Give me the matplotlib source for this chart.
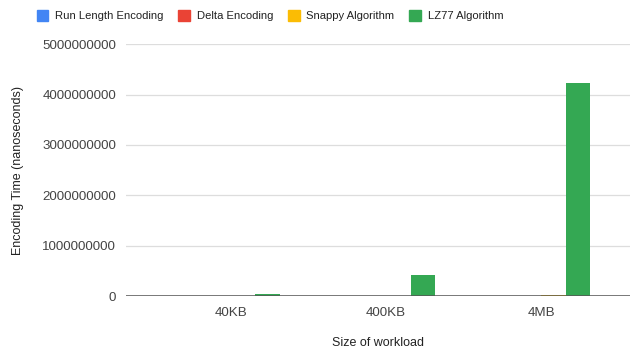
import matplotlib.pyplot as plt
import numpy as np
from matplotlib.patches import Patch

plt.rcParams['font.family'] = ['Liberation Sans', 'DejaVu Sans']

workloads = ["40KB", "400KB", "4MB"]
rle_times = [150000, 1200000, 11000000]
delta_times = [90000, 800000, 7500000]
snappy_times = [250000, 2100000, 19000000]
lz77_times = [45000000, 410000000, 4230000000]

series = [
    ("Run Length Encoding", rle_times, "#4285F4"),
    ("Delta Encoding", delta_times, "#EA4335"),
    ("Snappy Algorithm", snappy_times, "#FBBC04"),
    ("LZ77 Algorithm", lz77_times, "#34A853"),
]

fig = plt.figure(figsize=(6.35, 3.5), dpi=100)
ax = fig.add_axes([0.198, 0.154, 0.794, 0.72])

x = np.arange(len(workloads))
w = 0.158
for i, (name, vals, col) in enumerate(series):
    ax.bar(x + (i - 1.5) * w, vals, w, color=col, label=name, zorder=3)

ax.set_ylim(0, 5000000000)
ax.set_xlim(-0.675, 2.57)
ax.set_yticks(np.arange(0, 5000000001, 1000000000))
ax.yaxis.set_major_formatter(plt.FuncFormatter(lambda v, p: f"{int(v)}"))
ax.set_xticks(x)
ax.set_xticklabels(workloads)
ax.tick_params(length=0, labelsize=9.6, colors="#444444", pad=7)
ax.tick_params(axis="x", pad=8)
ax.grid(axis="y", color="#dddddd", linewidth=0.9, zorder=0)
for s in ax.spines.values():
    s.set_visible(False)
ax.axhline(0, color="#555555", linewidth=1.1, zorder=4)

ax.set_ylabel("Encoding Time (nanoseconds)", fontsize=9, color="#222222", labelpad=13)
ax.set_xlabel("Size of workload", fontsize=9, color="#222222", labelpad=13)

handles = [Patch(facecolor=c, edgecolor=c) for _, _, c in series]
fig.legend(handles, [n for n, _, _ in series], loc="upper center",
           bbox_to_anchor=(0.425, 1.0), ncol=4, frameon=False, fontsize=8.1,
           handlelength=1.05, handleheight=1.05, handletextpad=0.6,
           columnspacing=1.3, labelcolor="#222222")

fig.savefig("out.png", dpi=100)
